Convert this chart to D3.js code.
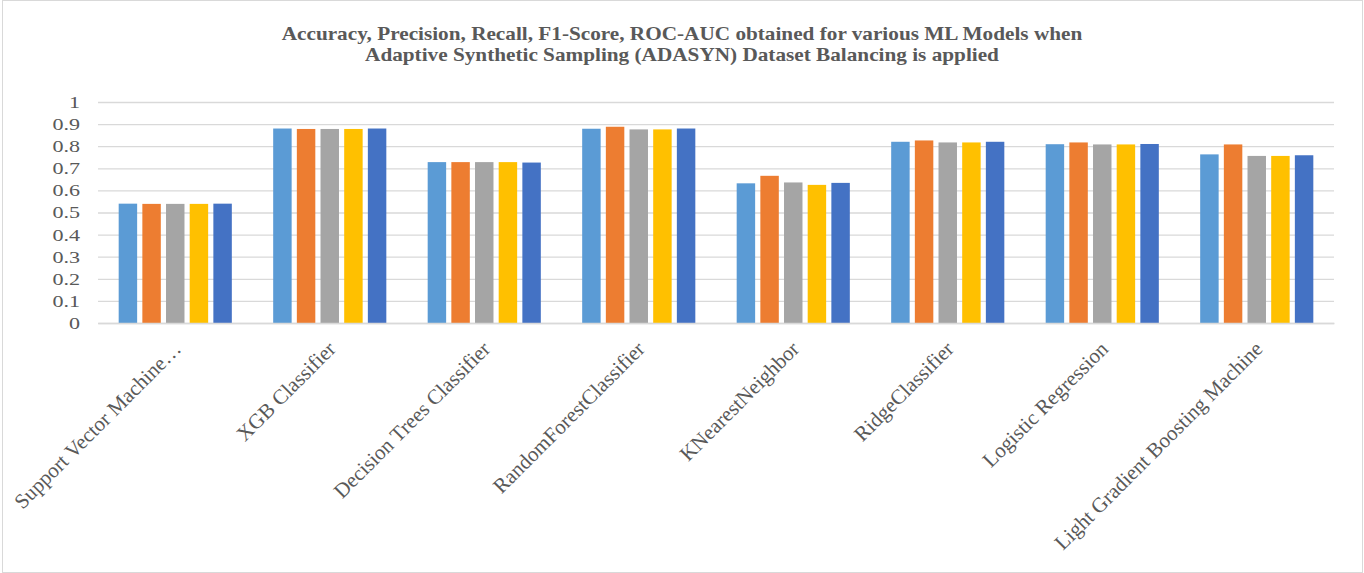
<!DOCTYPE html>
<html>
<head>
<meta charset="utf-8">
<script src="https://cdn.jsdelivr.net/npm/d3@7"></script>
<style>
  html, body { margin: 0; padding: 0; background: #fff; }
  svg { display: block; }
</style>
</head>
<body>
<svg id="chart" width="1364" height="573"></svg>
<script>
// Model names along the x axis
const models = [
  "Support Vector Machine\u2026",
  "XGB Classifier",
  "Decision Trees Classifier",
  "RandomForestClassifier",
  "KNearestNeighbor",
  "RidgeClassifier",
  "Logistic Regression",
  "Light Gradient Boosting Machine"
];

// Metric names, one bar per metric in each group
const metrics = ["Accuracy", "Precision", "Recall", "F1-Score", "ROC-AUC"];

// Scores per metric, in model order
const accuracy  = [0.540, 0.880, 0.728, 0.879, 0.632, 0.820, 0.809, 0.763];
const precision = [0.539, 0.878, 0.728, 0.888, 0.666, 0.826, 0.817, 0.808];
const recall    = [0.539, 0.878, 0.728, 0.876, 0.636, 0.817, 0.808, 0.756];
const f1Score   = [0.539, 0.878, 0.728, 0.876, 0.625, 0.817, 0.808, 0.756];
const rocAuc    = [0.540, 0.880, 0.726, 0.880, 0.634, 0.820, 0.810, 0.759];

const yTicks = [0, 0.1, 0.2, 0.3, 0.4, 0.5, 0.6, 0.7, 0.8, 0.9, 1];

const colors = ["#5B9BD5", "#ED7D31", "#A5A5A5", "#FFC000", "#4472C4"];

const titleLines = [
  "Accuracy, Precision, Recall, F1-Score, ROC-AUC obtained for various ML Models when",
  "Adaptive Synthetic Sampling (ADASYN) Dataset Balancing is applied"
];

const seriesValues = [accuracy, precision, recall, f1Score, rocAuc];
const rows = models.map((m, i) => ({
  model: m,
  values: metrics.map((k, j) => ({ metric: k, value: seriesValues[j][i] }))
}));

const svg = d3.select("#chart");
const W = 1364, H = 573;
const margin = { top: 102, right: 30, bottom: 250, left: 98 };
const plotW = W - margin.left - margin.right;
const plotH = H - margin.top - margin.bottom;

const textColor = "#595959";
const gridColor = "#D9D9D9";
const serif = "'Liberation Serif', 'Times New Roman', serif";

// Outer chart frame
svg.append("rect")
  .attr("x", 2.5).attr("y", 0.5)
  .attr("width", W - 4).attr("height", H - 1)
  .attr("fill", "#fff")
  .attr("stroke", gridColor)
  .attr("stroke-width", 1);

// Title (text is drawn slightly wide, as in the source chart)
svg.append("g")
  .selectAll("text")
  .data(titleLines)
  .join("text")
  .attr("transform", (d, i) => `translate(${W / 2},${40 + i * 21}) scale(1.18,1)`)
  .attr("text-anchor", "middle")
  .attr("font-family", serif)
  .attr("font-weight", "bold")
  .attr("font-size", 18)
  .attr("fill", textColor)
  .text(d => d);

const g = svg.append("g")
  .attr("transform", `translate(${margin.left},${margin.top})`);

const y = d3.scaleLinear().domain([0, 1]).range([plotH, 0]);

const groupPad = 0.234;
const x0 = d3.scaleBand()
  .domain(models)
  .range([0, plotW])
  .paddingInner(groupPad)
  .paddingOuter(groupPad / 2);

const x1 = d3.scaleBand()
  .domain(metrics)
  .range([0, x0.bandwidth()])
  .paddingInner(0.22)
  .paddingOuter(0.11);

// Horizontal gridlines and y tick labels
const yAxis = d3.axisLeft(y)
  .tickValues(yTicks)
  .tickSize(-plotW)
  .tickPadding(0)
  .tickFormat(d => d3.format("")(+d.toFixed(1)));

const yg = g.append("g").call(yAxis);
yg.select(".domain").remove();
yg.selectAll(".tick line")
  .attr("stroke", gridColor)
  .attr("stroke-width", 1.3);
yg.selectAll(".tick text")
  .attr("x", null)
  .attr("transform", "translate(-18,0) scale(1.3,1)")
  .attr("font-family", serif)
  .attr("font-size", 17)
  .attr("fill", textColor);

// Bars
g.append("g")
  .selectAll("g")
  .data(rows)
  .join("g")
  .attr("transform", d => `translate(${x0(d.model)},0)`)
  .selectAll("rect")
  .data(d => d.values)
  .join("rect")
  .attr("x", d => x1(d.metric))
  .attr("y", d => y(d.value))
  .attr("width", x1.bandwidth())
  .attr("height", d => plotH - y(d.value))
  .attr("fill", (d, i) => colors[i]);

// Category axis
const xAxis = d3.axisBottom(x0).tickSize(0).tickPadding(0);
const xg = g.append("g")
  .attr("transform", `translate(0,${plotH})`)
  .call(xAxis);
xg.select(".domain")
  .attr("stroke", gridColor)
  .attr("stroke-width", 1.3);
xg.selectAll(".tick text")
  .attr("y", 0)
  .attr("font-family", serif)
  .attr("font-size", 21)
  .attr("fill", textColor)
  .attr("text-anchor", "end")
  .attr("dy", "0.35em")
  .attr("transform", "translate(2,22) rotate(-45)");
</script>
</body>
</html>
